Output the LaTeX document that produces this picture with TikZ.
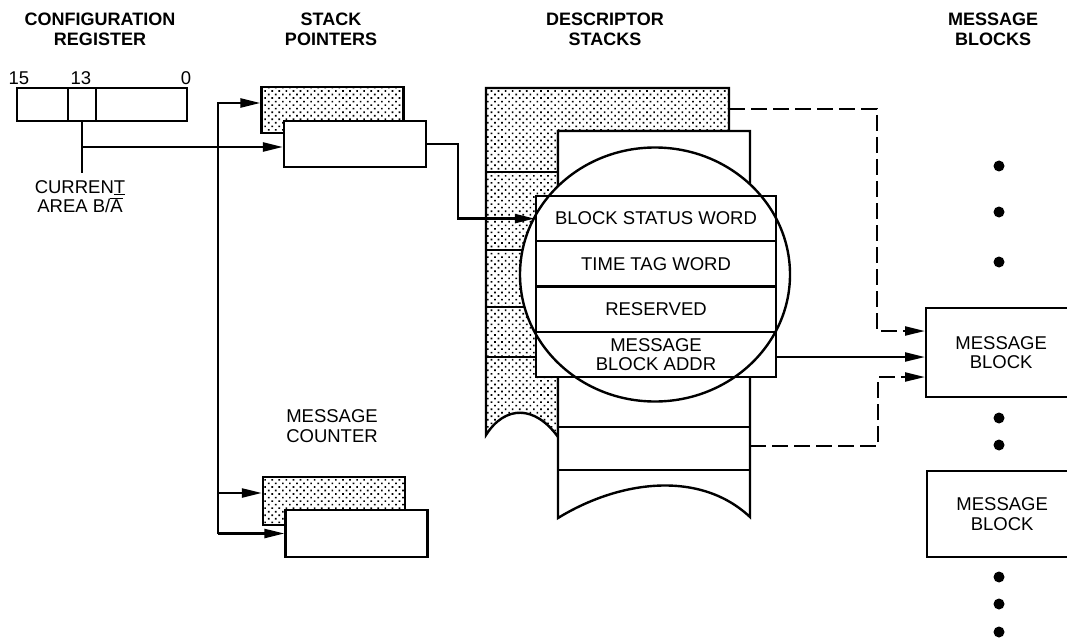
\documentclass[tikz,border=0pt]{standalone}
\usepackage{fontspec}
\setmainfont{Liberation Sans}
\usetikzlibrary{arrows.meta, patterns.meta}

\begin{document}
\begin{tikzpicture}[
  x=1pt, y=-1pt,
  line width=2.4pt,
  every node/.style = {font=\fontsize{18.5}{19.5}\selectfont, inner sep=0pt, align=center},
  ttl/.style  = {font=\fontsize{18}{19.5}\selectfont\bfseries},
  reg/.style  = {rectangle, draw, minimum height=33pt},
  dotfill/.style = {pattern={Dots[radius=1.15pt, distance=5pt, angle=45]}},
  wbox/.style = {rectangle, draw, fill=white, minimum width=142pt, minimum height=46pt},
  sbox/.style = {rectangle, draw, dotfill, minimum width=142pt, minimum height=46pt},
  fld/.style  = {rectangle, draw, fill=white, minimum width=240pt, minimum height=45.25pt},
  mblk/.style = {rectangle, draw, fill=white, anchor=west, minimum width=150pt},
  arr/.style  = {-{Triangle[length=20pt, width=9pt]}},
  dsh/.style  = {dash pattern=on 16pt off 6pt}
]
\useasboundingbox (0,0) rectangle (1067,639);
\clip (0,0) rectangle (1067,639);

%% ── TITLES ───────────────────────────────────────────────────────
\node[ttl] at (100, 29.5) (tcfg) {CONFIGURATION\\REGISTER};
\node[ttl] at (331, 29.5) (tsp)  {STACK\\POINTERS};
\node[ttl] at (605, 29.5) (tds)  {DESCRIPTOR\\STACKS};
\node[ttl] at (993, 29.5) (tmb)  {MESSAGE\\BLOCKS};

%% ── CONFIGURATION REGISTER ───────────────────────────────────────
\node[reg, minimum width=51pt] at (42.5, 104.5) (f15) {};
\node[reg, minimum width=28pt] at (82,   104.5) (f13) {};
\node[reg, minimum width=91pt] at (141.5,104.5) (f0)  {};
\node at (19,  78) (b15) {15};
\node at (81,  78) (b13) {13};
\node at (186, 78) (b0)  {0};
\node at (80, 196.5) (cur) {CURREN\underline{T}\\AREA B/$\overline{\mbox{A}}$};

%% ── STACK POINTERS + MESSAGE COUNTER ─────────────────────────────
\node[sbox] at (332.5, 110)   (spA) {};
\node[wbox] at (355,   144)   (spB) {};
\node at (332, 426) (mclbl) {MESSAGE\\COUNTER};
\node[sbox, minimum height=48pt] at (334,   501)   (mcA) {};
\node[wbox, minimum height=47pt] at (356.5, 533.5) (mcB) {};

%% ── DESCRIPTOR STACKS ────────────────────────────────────────────
\filldraw[dotfill] (486,88) -- (729,88) -- (729,131) -- (558,131) -- (558,437)
  .. controls (535,405) and (505,405) .. (486,435) -- cycle;
\foreach \y in {172,250,307,357} \draw (486,\y) -- (558,\y);
\filldraw[fill=white] (558,131) -- (750,131) -- (750,517)
  .. controls (700,470) and (620,480) .. (558,518) -- cycle;
\foreach \y in {427,470} \draw (558,\y) -- (750,\y);
\coordinate (stkA) at (729,109);
\coordinate (stkB) at (750,446);

%% ── ENLARGED DESCRIPTOR ──────────────────────────────────────────
\fill[white] (655,274.5) ellipse [x radius=135pt, y radius=127pt];
\node[fld] at (656, 218.6) (bsw) {BLOCK STATUS WORD};
\node[fld] at (656, 263.9) (ttw) {TIME TAG WORD};
\node[fld] at (656, 309.1) (rsv) {RESERVED};
\node[fld] at (656, 354.4) (mba) {MESSAGE\\BLOCK ADDR};
\draw (655,274.5) ellipse [x radius=135pt, y radius=127pt];

%% ── MESSAGE BLOCKS ───────────────────────────────────────────────
\node[mblk, minimum height=89pt] at (925, 352.5) (mb1) {MESSAGE\\BLOCK};
\node[mblk, minimum height=86pt] at (926, 514)   (mb2) {MESSAGE\\BLOCK};
\foreach \y in {166,212,262,418,445,577,604,632}
  \fill (999,\y) circle (5.5pt);

%% ── ARROWS ───────────────────────────────────────────────────────
\coordinate (tapE) at (82,173);
\coordinate (tapJ) at (82,147);
\coordinate (busT) at (218,103);
\coordinate (busM) at (218,493);
\draw (f13.south) -- (tapE);
\draw[arr] (tapJ) -- (tapJ -| spB.west);
\draw[arr] (busT |- mcB.west) -- (busT) -- (busT -| spA.west);
\draw[arr] (busM) -- (busM -| mcA.west);
\draw[arr] (busT |- mcB.west) -- (mcB.west);
\draw[arr] (spB.east) -- ++(31,0) |- (bsw.west);
\draw[arr] (mba.east |- 0,357) -- (mb1.west |- 0,357);
\draw[arr, dsh] (stkA) -| (877,331) -- (mb1.west |- 0,331);
\draw[arr, dsh] (stkB) -| (878,377) -- (mb1.west |- 0,377);

\end{tikzpicture}
\end{document}
